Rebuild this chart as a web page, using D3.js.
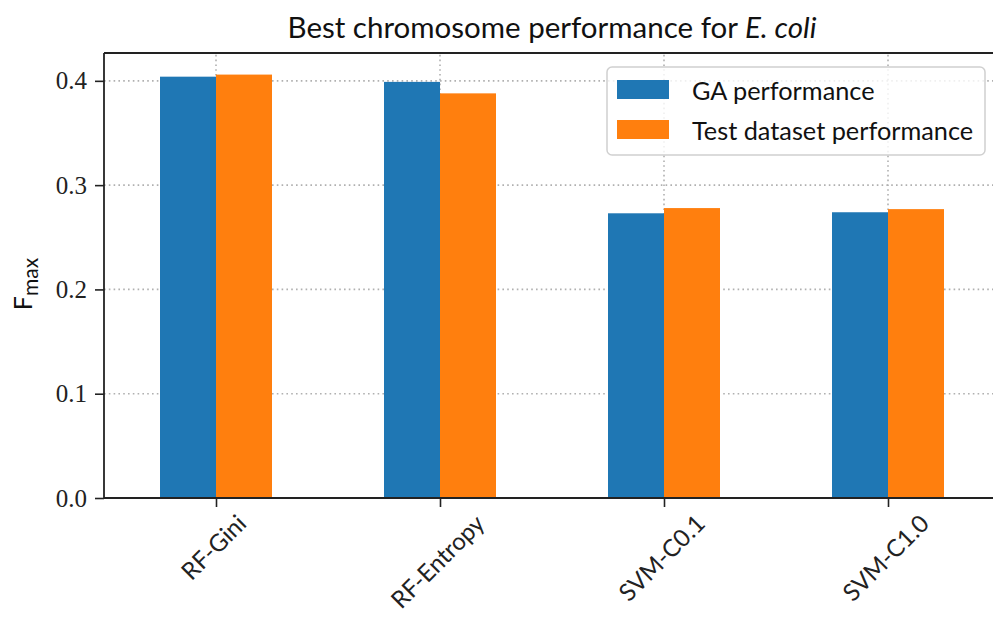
<!DOCTYPE html>
<html>
<head>
<meta charset="utf-8">
<script src="https://cdn.jsdelivr.net/npm/d3@7"></script>
<style>
  body { margin: 0; background: #fff; }
  svg { display: block; }
  .sans { font-family: Lato, "Open Sans", sans-serif; }
  .serif { font-family: "Liberation Serif", serif; }
</style>
</head>
<body>
<div id="chart"></div>
<script>

var categories = ['RF-Gini', 'RF-Entropy', 'SVM-C0.1', 'SVM-C1.0'];
var seriesNames = ['GA performance', 'Test dataset performance'];
var gaValues = [0.404, 0.399, 0.273, 0.274];
var testValues = [0.406, 0.388, 0.278, 0.277];
var yTicks = [0.0, 0.1, 0.2, 0.3, 0.4];
var colors = ['#1f77b4', '#ff7f0e'];

var width = 993, height = 623;
var margin = {left: 104, right: -7, top: 53, bottom: 125};

var svg = d3.select('#chart').append('svg')
    .attr('width', width)
    .attr('height', height);

var x = d3.scaleLinear()
    .domain([-0.5, categories.length - 0.5])
    .range([margin.left, width - margin.right]);

var y = d3.scaleLinear()
    .domain([0, 0.4267])
    .range([height - margin.bottom, margin.top]);

var barW = 0.25;

// grid
var grid = svg.append('g').attr('class', 'grid');
grid.selectAll('.hgrid')
    .data(yTicks.slice(1))
  .enter().append('line')
    .attr('x1', x.range()[0]).attr('x2', x.range()[1])
    .attr('y1', function(d) { return y(d); })
    .attr('y2', function(d) { return y(d); })
    .attr('stroke', '#b0b0b0')
    .attr('stroke-width', 1.6)
    .attr('stroke-dasharray', '1.6,3.2');
grid.selectAll('.vgrid')
    .data(categories)
  .enter().append('line')
    .attr('x1', function(d, i) { return x(i); })
    .attr('x2', function(d, i) { return x(i); })
    .attr('y1', y.range()[0]).attr('y2', y.range()[1])
    .attr('stroke', '#b0b0b0')
    .attr('stroke-width', 1.6)
    .attr('stroke-dasharray', '1.6,3.2');

// bars
var series = [gaValues, testValues];
series.forEach(function(vals, s) {
    svg.append('g').selectAll('rect')
        .data(vals)
      .enter().append('rect')
        .attr('x', function(d, i) { return x(i - barW + s * barW); })
        .attr('width', function() { return x(barW) - x(0); })
        .attr('y', function(d) { return y(d); })
        .attr('height', function(d) { return y(0) - y(d); })
        .attr('fill', colors[s]);
});

// axes
var yAxis = d3.axisLeft(y)
    .tickValues(yTicks)
    .tickFormat(d3.format('.1f'))
    .tickSize(9)
    .tickPadding(8);
var yg = svg.append('g')
    .attr('transform', 'translate(' + margin.left + ',0)')
    .call(yAxis);
yg.select('.domain').remove();
yg.selectAll('line').attr('stroke', '#222').attr('stroke-width', 1.6);
yg.selectAll('text')
    .attr('class', 'serif')
    .style('font-size', '25px')
    .attr('fill', '#222');

var xAxis = d3.axisBottom(x)
    .tickValues(d3.range(categories.length))
    .tickFormat('')
    .tickSize(9);
var xg = svg.append('g')
    .attr('transform', 'translate(0,' + y(0) + ')')
    .call(xAxis);
xg.select('.domain').remove();
xg.selectAll('line').attr('stroke', '#222').attr('stroke-width', 1.6);

// rotated x labels, bbox centred under tick
var fs = 24;
categories.forEach(function(c, i) {
    var t = svg.append('text')
        .attr('class', 'sans')
        .style('font-size', fs + 'px')
        .attr('fill', '#222')
        .attr('text-anchor', 'middle')
        .attr('dominant-baseline', 'central')
        .text(c);
    var w = t.node().getComputedTextLength();
    var h = (w + fs) * Math.SQRT1_2;
    t.attr('transform', 'translate(' + (x(i) - 3) + ',' + (y(0) + 12 + h / 2) + ') rotate(-45)');
});

// spines
svg.append('line')
    .attr('x1', x.range()[0]).attr('x2', x.range()[1])
    .attr('y1', y.range()[0]).attr('y2', y.range()[0])
    .attr('stroke', '#222').attr('stroke-width', 1.8);
svg.append('line')
    .attr('x1', x.range()[0]).attr('x2', x.range()[1])
    .attr('y1', y.range()[1]).attr('y2', y.range()[1])
    .attr('stroke', '#222').attr('stroke-width', 1.8);
svg.append('line')
    .attr('x1', x.range()[0]).attr('x2', x.range()[0])
    .attr('y1', y.range()[0]).attr('y2', y.range()[1])
    .attr('stroke', '#222').attr('stroke-width', 1.8);

// title
var title = svg.append('text')
    .attr('class', 'sans')
    .attr('x', (x.range()[0] + x.range()[1]) / 2)
    .attr('y', 38)
    .attr('text-anchor', 'middle')
    .style('font-size', '29.5px')
    .attr('fill', '#111');
title.append('tspan').text('Best chromosome performance for ');
title.append('tspan').style('font-style', 'italic').text('E. coli');

// y label
var yl = svg.append('text')
    .attr('class', 'sans')
    .attr('transform', 'translate(32,284) rotate(-90)')
    .attr('text-anchor', 'middle')
    .style('font-size', '25px')
    .attr('fill', '#111');
yl.append('tspan').text('F');
yl.append('tspan').attr('dy', 6).style('font-size', '21px').text('max');

// legend
var lg = svg.append('g').attr('transform', 'translate(607,67)');
lg.append('rect')
    .attr('width', 378).attr('height', 88)
    .attr('rx', 5)
    .attr('fill', 'rgba(255,255,255,0.8)')
    .attr('stroke', '#d0d0d0')
    .attr('stroke-width', 1.5);
seriesNames.forEach(function(n, i) {
    lg.append('rect')
        .attr('x', 10).attr('y', 13 + i * 40)
        .attr('width', 52).attr('height', 19)
        .attr('fill', colors[i]);
    lg.append('text')
        .attr('class', 'sans')
        .attr('x', 85).attr('y', 33 + i * 40)
        .style('font-size', '25.3px')
        .attr('fill', '#111')
        .text(n);
});

</script>
</body>
</html>
